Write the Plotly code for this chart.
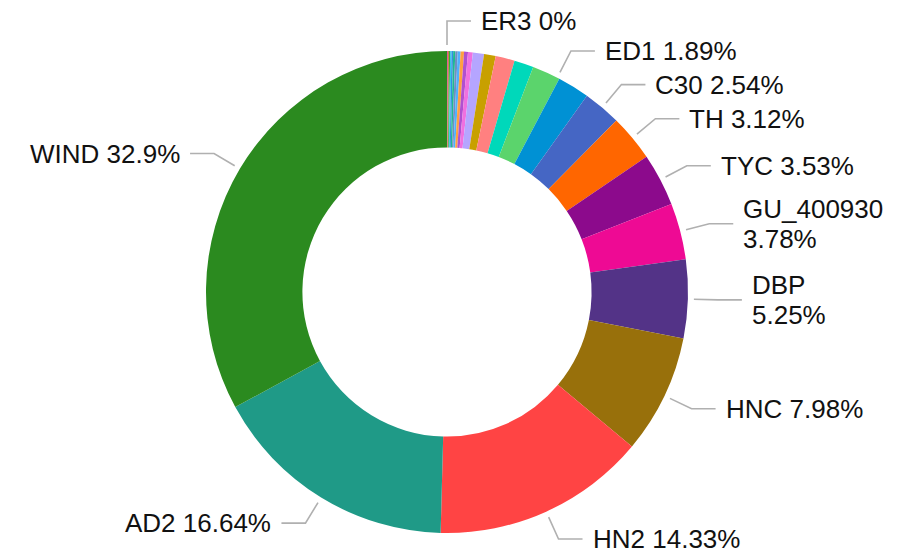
import math
import plotly.graph_objects as go

# ---------------- data (descending, counterclockwise from 12 o'clock) ----------------
names = [
    "WIND", "AD2", "HN2", "HNC", "DBP", "GU_400930", "TYC", "TH", "C30", "P10",
    "ED1", "P12", "P13", "P14", "P15", "P16", "P17", "P18", "P19", "P20",
    "P21", "P22", "P23", "P24", "P25", "P26", "ER3",
]
values = [
    32.9, 16.64, 14.33, 7.98, 5.25, 3.78, 3.53, 3.12, 2.54, 2.14,
    1.89, 1.30, 1.28, 0.78, 0.75, 0.32, 0.26, 0.23, 0.19, 0.16,
    0.14, 0.11, 0.09, 0.08, 0.07, 0.06, 0,
]
labeled = [
    "WIND", "AD2", "HN2", "HNC", "DBP", "GU_400930", "TYC", "TH", "C30", "ED1", "ER3",
]
colors = [
    "#2B8A1F", "#1F9A87", "#FF4444", "#98700B", "#533387", "#EE0A94", "#8C0A8C",
    "#FF6600", "#4566C4", "#0091D4", "#5BD46C", "#00D8BA", "#FF8080", "#C8A000",
    "#B5A5FF", "#F070E0", "#B050D0", "#FFA040", "#50B0FF", "#7090C0", "#20B890",
    "#3090E0", "#30C8E8", "#30B040", "#D08030", "#E040A0", "#E07040",
]

# ---------------- geometry / style (page pixel coords) ----------------
PW, PH = 912, 553          # browser window
PM = 8                     # default page body margin
FW, FH = PW - PM, PH - PM  # figure size
CX, CY, R = 447, 292, 241
HOLE = 0.6
LINE_GAP, SEG1, SEG2, TEXT_GAP = 6, 24, 24, 8
FS, LINE_H = 26, 30
EDGE = 30
FONT = "Liberation Sans, Arial, sans-serif"
LINE_COLOR = "#b0b0b0"

CW = {  # approximate Arial advance widths (em)
    "A": .667, "B": .667, "C": .722, "D": .722, "E": .667, "G": .778, "H": .722,
    "I": .278, "N": .722, "P": .667, "R": .722, "T": .611, "U": .722, "W": .944,
    "Y": .667, " ": .278, ".": .278, "%": .889, "_": .556,
}


def text_w(s):
    return sum(CW.get(c, .556) for c in s) * FS


def px(x):
    return (x - PM) / FW


def py(y):
    return 1 - (y - PM) / FH


# plotly: clockwise from 12 o'clock with ascending order == descending counterclockwise
fig = go.Figure(go.Pie(
    labels=names[::-1], values=values[::-1], hole=HOLE, sort=False,
    direction="clockwise", rotation=0,
    marker=dict(colors=colors[::-1], line=dict(width=0)),
    textinfo="none", hoverinfo="label+percent",
    domain=dict(x=[px(CX - R), px(CX + R)], y=[py(CY + R), py(CY - R)]),
))

total = sum(values)
RB = R + LINE_GAP + SEG1
items = []
cum = 0.0
for n, v in zip(names, values):
    phi = (cum + v / 2) / total * 2 * math.pi  # counterclockwise from top
    cum += v
    if n not in labeled:
        continue
    ux, uy = -math.sin(phi), -math.cos(phi)
    right = ux >= -1e-9
    bx, by = CX + RB * ux, CY + RB * uy
    txt = f"{n} {v:g}%"
    ex = bx + (SEG2 if right else -SEG2)
    tx = ex + (TEXT_GAP if right else -TEXT_GAP)
    tw = text_w(txt)
    if (right and tx + tw > PW - EDGE) or ((not right) and tx - tw < EDGE):
        lines = [n, f"{v:g}%"]
    else:
        lines = [txt]
    items.append(dict(right=right, by=by, bx=bx, lines=lines))

# simple vertical overlap avoidance per side
for side in (True, False):
    grp = sorted([it for it in items if it["right"] == side], key=lambda d: d["by"])
    for i in range(1, len(grp)):
        a, b = grp[i - 1], grp[i]
        need = (len(a["lines"]) + len(b["lines"])) * LINE_H / 2
        if b["by"] - a["by"] < need:
            b["by"] = a["by"] + need
            dy = b["by"] - CY
            dx = math.sqrt(max(RB ** 2 - dy ** 2, 0))
            b["bx"] = CX + (dx if side else -dx)

shapes, annots = [], []
for it in items:
    right = it["right"]
    bx, by = it["bx"], it["by"]
    d = math.hypot(bx - CX, by - CY)
    sx = CX + (bx - CX) / d * (R + LINE_GAP)
    sy = CY + (by - CY) / d * (R + LINE_GAP)
    ex = bx + (SEG2 if right else -SEG2)
    shapes.append(dict(
        type="path", xref="paper", yref="paper",
        path=f"M {px(sx)},{py(sy)} L {px(bx)},{py(by)} L {px(ex)},{py(by)}",
        line=dict(color=LINE_COLOR, width=1.6),
    ))
    tx = ex + (TEXT_GAP if right else -TEXT_GAP)
    nl = len(it["lines"])
    for k, ln in enumerate(it["lines"]):
        ty = by + (k - (nl - 1) / 2) * LINE_H
        annots.append(dict(
            x=px(tx), y=py(ty), xref="paper", yref="paper", text=ln,
            showarrow=False, xanchor="left" if right else "right",
            yanchor="middle", font=dict(family=FONT, size=FS, color="#111111"),
        ))

fig.update_layout(
    width=FW, height=FH, autosize=False,
    margin=dict(l=0, r=0, t=0, b=0),
    paper_bgcolor="white", plot_bgcolor="white",
    showlegend=False, shapes=shapes, annotations=annots,
)

fig.write_html("out.html")
